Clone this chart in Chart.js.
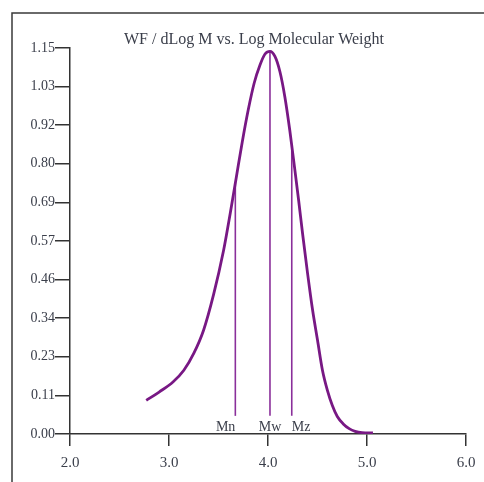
<!DOCTYPE html>
<html>
<head>
<meta charset="utf-8">
<script src="https://cdn.jsdelivr.net/npm/chart.js@4"></script>
<style>
  html, body { margin: 0; padding: 0; background: #fff; }
  #wrap { position: relative; width: 484px; height: 482px; }
</style>
</head>
<body>
<div id="wrap"><canvas id="myChart" width="484" height="482"></canvas></div>
<script>
// ============================================
// Data
// ============================================

const chartTitle = 'WF / dLog M vs. Log Molecular Weight';

// Log molecular weight (x) and WF / dLog M (y)
const logM = [2.77, 2.90, 3.04, 3.15, 3.25, 3.35, 3.45, 3.55, 3.62, 3.68, 3.74, 3.80, 3.86, 3.92, 3.97, 4.02, 4.07, 4.12, 4.17, 4.22, 4.27, 4.31, 4.35, 4.40, 4.45, 4.50, 4.55, 4.60, 4.65, 4.70, 4.76, 4.82, 4.88, 4.95, 5.06];
const wf   = [0.100, 0.125, 0.155, 0.190, 0.240, 0.310, 0.415, 0.545, 0.660, 0.765, 0.870, 0.965, 1.045, 1.100, 1.132, 1.140, 1.125, 1.080, 1.005, 0.905, 0.790, 0.695, 0.595, 0.478, 0.370, 0.280, 0.190, 0.130, 0.085, 0.052, 0.030, 0.016, 0.008, 0.004, 0.003];

// Average molecular weight markers
const markerNames = ['Mn', 'Mw', 'Mz'];
const markerLogM  = [3.67, 4.02, 4.24];
const markerTop   = [0.75, 1.14, 0.86];
const markerBase  = 0.054;

// Axis ticks
const xTicks = [2, 3, 4, 5, 6];
const yTickValues = [0, 0.115, 0.23, 0.345, 0.46, 0.575, 0.69, 0.805, 0.92, 1.035, 1.15];
const yTickLabels = ['0.00', '0.11', '0.23', '0.34', '0.46', '0.57', '0.69', '0.80', '0.92', '1.03', '1.15'];

// ============================================
// Styles
// ============================================

const SERIF = '"Liberation Serif", "DejaVu Serif", serif';
const CURVE_COLOR = '#781884';
const MARKER_COLOR = '#8a2f9a';
const AXIS_COLOR = '#333';
const TEXT_COLOR = '#3a3e4a';

// ============================================
// Plugins: frame, title, marker labels
// ============================================

const decorPlugin = {
	id: 'decor',
	beforeDraw(chart) {
		const ctx = chart.ctx;
		ctx.save();
		ctx.strokeStyle = '#3a3a3a';
		ctx.lineWidth = 1.5;
		ctx.beginPath();
		ctx.moveTo(12, 482);
		ctx.lineTo(12, 13);
		ctx.lineTo(484, 13);
		ctx.stroke();
		ctx.restore();
	},
	afterDraw(chart) {
		const ctx = chart.ctx;
		const xs = chart.scales.x;
		const ys = chart.scales.y;
		ctx.save();
		ctx.fillStyle = TEXT_COLOR;
		ctx.font = '16px ' + SERIF;
		ctx.textAlign = 'center';
		ctx.textBaseline = 'middle';
		ctx.fillText(chartTitle, 254, 40);

		ctx.font = '14px ' + SERIF;
		const aligns = ['right', 'center', 'left'];
		markerNames.forEach((name, i) => {
			const px = xs.getPixelForValue(markerLogM[i]);
			const py = ys.getPixelForValue(0) - 7;
			ctx.textAlign = aligns[i];
			ctx.fillText(name, px, py);
		});
		ctx.restore();
	}
};

// ============================================
// Chart
// ============================================

const curveData = logM.map((x, i) => ({ x: x, y: wf[i] }));

const markerSets = markerNames.map((name, i) => ({
	label: name,
	data: [
		{ x: markerLogM[i], y: markerBase },
		{ x: markerLogM[i], y: markerTop[i] }
	],
	showLine: true,
	borderColor: MARKER_COLOR,
	borderWidth: 1.6,
	pointRadius: 0
}));

new Chart(document.getElementById('myChart'), {
	type: 'scatter',
	data: {
		datasets: [{
			label: 'WF / dLog M',
			data: curveData,
			showLine: true,
			borderColor: CURVE_COLOR,
			borderWidth: 2.8,
			pointRadius: 0,
			cubicInterpolationMode: 'monotone'
		}].concat(markerSets)
	},
	options: {
		responsive: false,
		animation: false,
		layout: { padding: { top: 48, right: 18, left: 0, bottom: 0 } },
		plugins: {
			legend: { display: false },
			tooltip: { enabled: false }
		},
		scales: {
			x: {
				type: 'linear',
				min: 2,
				max: 6,
				afterBuildTicks: scale => { scale.ticks = xTicks.map(v => ({ value: v })); },
				afterFit: scale => { scale.height = 48; },
				ticks: {
					callback: v => v.toFixed(1),
					color: TEXT_COLOR,
					font: { family: SERIF, size: 15 },
					padding: 8,
					maxRotation: 0
				},
				grid: {
					drawOnChartArea: false,
					drawTicks: true,
					tickLength: 12,
					color: AXIS_COLOR,
					lineWidth: 1.5
				},
				border: { color: AXIS_COLOR, width: 1.5 }
			},
			y: {
				type: 'linear',
				min: 0,
				max: 1.15,
				afterBuildTicks: scale => { scale.ticks = yTickValues.map(v => ({ value: v })); },
				afterFit: scale => { scale.width = 70; },
				ticks: {
					callback: (v, i) => yTickLabels[i],
					color: TEXT_COLOR,
					font: { family: SERIF, size: 14 },
					padding: 0
				},
				grid: {
					drawOnChartArea: false,
					drawTicks: true,
					tickLength: 15,
					color: AXIS_COLOR,
					lineWidth: 1.5
				},
				border: { color: AXIS_COLOR, width: 1.5 }
			}
		}
	},
	plugins: [decorPlugin]
});
</script>
</body>
</html>
